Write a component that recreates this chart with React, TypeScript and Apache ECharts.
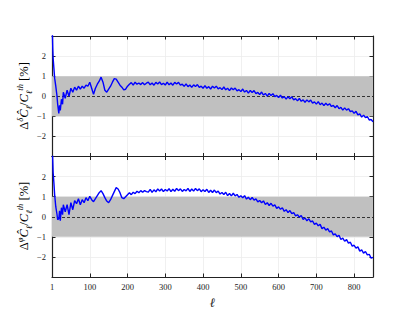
import React, { useEffect, useRef } from "react";
import * as echarts from "echarts";

// multipole values (shared by both panels)
const ell = [
  1, 2, 3, 5, 7, 10, 13, 15, 18, 20, 22, 25, 28, 30,
  35, 40, 45, 50, 55, 60, 65, 70, 75, 80,
  85, 90, 95, 100, 105, 110, 115, 120, 125, 130,
  135, 140, 145, 150, 155, 160, 165, 170, 175, 180,
  185, 190, 195, 200, 205, 210, 215, 220, 225, 230,
  235, 240, 245, 250,
  255, 260, 265, 270, 275, 280, 285, 290, 295, 300,
  305, 310, 315, 320, 325, 330, 335, 340, 345, 350,
  355, 360, 365, 370, 375, 380, 385, 390, 395, 400,
  405, 410, 415, 420, 425, 430, 435, 440, 445, 450,
  455, 460, 465, 470, 475, 480, 485, 490, 495, 500,
  505, 510, 515, 520, 525, 530, 535, 540, 545, 550,
  555, 560, 565, 570, 575, 580, 585, 590, 595, 600,
  605, 610, 615, 620, 625, 630, 635, 640, 645, 650,
  655, 660, 665, 670, 675, 680, 685, 690, 695, 700,
  705, 710, 715, 720, 725, 730, 735, 740, 745, 750,
  755, 760, 765, 770, 775, 780, 785, 790, 795, 800,
  805, 810, 815, 820, 825, 830, 835, 840, 845, 850,
];

// top panel: Δ^δ Ĉ_ℓ / C_ℓ^th [%]
const deltaPct = [
  3.2, 2.4, 1.9, 1.4, 0.9, 0.5, 0.05, -0.4, -0.85, -0.45, -0.7, -0.15, -0.4, 0.2,
  -0.1, 0.3, 0.0, 0.4, 0.2, 0.45, 0.3, 0.5, 0.35, 0.5,
  0.4, 0.55, 0.5, 0.7, 0.4, 0.1, 0.4, 0.6, 0.75, 0.95,
  0.7, 0.3, 0.2, 0.35, 0.5, 0.7, 0.88, 0.85, 0.7, 0.55,
  0.45, 0.32, 0.35, 0.5, 0.6, 0.68, 0.55, 0.7, 0.6, 0.66,
  0.58, 0.68, 0.57, 0.65,
  0.70, 0.57, 0.66, 0.55, 0.69, 0.61, 0.71, 0.58, 0.65, 0.56,
  0.70, 0.57, 0.66, 0.55, 0.69, 0.61, 0.69, 0.55, 0.60, 0.49,
  0.62, 0.48, 0.56, 0.44, 0.57, 0.48, 0.58, 0.44, 0.50, 0.40,
  0.53, 0.40, 0.48, 0.36, 0.50, 0.41, 0.50, 0.37, 0.43, 0.33,
  0.46, 0.32, 0.40, 0.28, 0.41, 0.32, 0.41, 0.27, 0.33, 0.23,
  0.36, 0.21, 0.29, 0.16, 0.29, 0.19, 0.28, 0.13, 0.19, 0.08,
  0.21, 0.06, 0.14, 0.01, 0.14, 0.04, 0.13, -0.02, 0.04, -0.07,
  0.05, -0.09, -0.02, -0.14, -0.02, -0.12, -0.03, -0.18, -0.12, -0.23,
  -0.11, -0.25, -0.18, -0.30, -0.18, -0.28, -0.19, -0.34, -0.28, -0.39,
  -0.27, -0.42, -0.34, -0.47, -0.35, -0.45, -0.37, -0.51, -0.46, -0.57,
  -0.46, -0.62, -0.55, -0.69, -0.58, -0.69, -0.62, -0.77, -0.73, -0.85,
  -0.75, -0.93, -0.88, -1.04, -0.94, -1.06, -1.01, -1.18, -1.16, -1.27,
];

// bottom panel: Δ^φ Ĉ_ℓ / C_ℓ^th [%]
const phiPct = [
  3.3, 2.8, 2.2, 1.7, 1.1, 0.5, 0.15, -0.15, -0.1, 0.3, -0.2, 0.45, 0.1, 0.6,
  0.25, 0.6, 0.1, 0.7, 0.35, 0.8, 0.65, 0.9, 0.6, 0.85,
  0.7, 0.95, 0.8, 1.02, 0.85, 0.75, 0.9, 1.05, 1.2, 1.3,
  1.15, 0.95, 0.78, 0.7, 0.85, 1.05, 1.25, 1.45, 1.38, 1.2,
  0.95, 0.9, 1.0, 1.1, 1.2, 1.1, 1.22, 1.15, 1.27, 1.2,
  1.3, 1.22, 1.3, 1.25,
  1.23, 1.36, 1.21, 1.34, 1.24, 1.39, 1.28, 1.38, 1.25, 1.36,
  1.28, 1.40, 1.25, 1.37, 1.27, 1.41, 1.30, 1.39, 1.26, 1.36,
  1.29, 1.41, 1.26, 1.38, 1.28, 1.41, 1.30, 1.39, 1.25, 1.35,
  1.26, 1.37, 1.21, 1.32, 1.21, 1.33, 1.20, 1.28, 1.13, 1.21,
  1.11, 1.22, 1.05, 1.16, 1.04, 1.17, 1.04, 1.11, 0.97, 1.05,
  0.95, 1.05, 0.88, 0.97, 0.85, 0.96, 0.83, 0.89, 0.74, 0.81,
  0.70, 0.79, 0.61, 0.70, 0.56, 0.67, 0.53, 0.59, 0.42, 0.49,
  0.37, 0.45, 0.27, 0.35, 0.21, 0.31, 0.16, 0.21, 0.04, 0.10,
  -0.02, 0.06, -0.14, -0.06, -0.20, -0.10, -0.26, -0.21, -0.38, -0.32,
  -0.45, -0.38, -0.59, -0.52, -0.67, -0.59, -0.75, -0.71, -0.90, -0.85,
  -0.99, -0.92, -1.13, -1.06, -1.22, -1.14, -1.31, -1.27, -1.46, -1.42,
  -1.56, -1.50, -1.71, -1.65, -1.81, -1.73, -1.90, -1.87, -2.06, -2.02,
];

const yTicks = [-2, -1, 0, 1, 2];
const xTickLabels: Record<number, string> = { 0: "1", 100: "100", 200: "200", 300: "300", 400: "400", 500: "500", 600: "600", 700: "700", 800: "800" };
const bandLow = -1;
const bandHigh = 1;

const SERIF = "'Liberation Serif', 'DejaVu Serif', serif";
const AXIS_COLOR = "#222";

export default function App() {
  const ref = useRef<HTMLDivElement>(null);
  useEffect(() => {
    if (!ref.current) return;
    const chart = echarts.init(ref.current, null, { renderer: "svg" });

    const grids = [
      { left: 52, top: 36, width: 321, height: 120.5 },
      { left: 52, top: 156.5, width: 321, height: 120.5 },
    ];

    const xAxis: any[] = [];
    const yAxis: any[] = [];
    grids.forEach((_, gi) => {
      ["bottom", "top"].forEach((pos) => {
        const showLabel = gi === 1 && pos === "bottom";
        xAxis.push({
          type: "value",
          gridIndex: gi,
          position: pos,
          min: 0,
          max: 850,
          interval: 100,
          axisLine: { show: true, onZero: false, lineStyle: { color: AXIS_COLOR, width: 1.2 } },
          axisTick: { show: true, inside: true, length: 3.5, lineStyle: { color: AXIS_COLOR, width: 1 } },
          axisLabel: {
            show: showLabel,
            showMaxLabel: false,
            margin: 5,
            fontFamily: SERIF,
            fontSize: 8.5,
            color: "#222",
            formatter: (v: number) => (xTickLabels[v] !== undefined ? xTickLabels[v] : ""),
          },
          splitLine: pos === "bottom" ? { show: true, lineStyle: { color: "#ececec", width: 0.8 } } : { show: false },
          name: showLabel ? "ℓ" : "",
          nameLocation: "middle",
          nameGap: 19,
          nameTextStyle: { fontFamily: SERIF, fontStyle: "italic", fontSize: 13, color: "#222" },
        });
      });
      ["left", "right"].forEach((pos) => {
        yAxis.push({
          type: "value",
          gridIndex: gi,
          position: pos,
          min: -3,
          max: 3,
          interval: 1,
          axisLine: { show: true, onZero: false, lineStyle: { color: AXIS_COLOR, width: 1.2 } },
          axisTick: { show: true, inside: true, length: 3.5, lineStyle: { color: AXIS_COLOR, width: 1 } },
          axisLabel: {
            show: pos === "left",
            margin: 6,
            fontFamily: SERIF,
            fontSize: 8.5,
            color: "#222",
            formatter: (v: number) => (yTicks.indexOf(v) >= 0 ? String(v).replace("-", "\u2212") : ""),
          },
          splitLine: pos === "left" ? { show: true, lineStyle: { color: "#ececec", width: 0.8 } } : { show: false },
        });
      });
    });

    const mkSeries = (vals: number[], gi: number) => ({
      type: "line",
      xAxisIndex: gi * 2,
      yAxisIndex: gi * 2,
      data: ell.map((l, i) => [l, vals[i]]),
      showSymbol: false,
      symbol: "none",
      clip: true,
      z: 5,
      lineStyle: { color: "#0000ff", width: 1.4 },
      markArea: {
        silent: true,
        itemStyle: { color: "#c0c0c0", opacity: 1 },
        data: [[{ yAxis: bandLow }, { yAxis: bandHigh }]],
      },
      markLine: {
        silent: true,
        symbol: "none",
        label: { show: false },
        lineStyle: { color: "#333", type: [3, 2], width: 1 },
        data: [{ yAxis: 0 }],
      },
    });

    const richBase = { fontFamily: SERIF, fontSize: 12.5, color: "#222", lineHeight: 18 };
    const rich = {
      b: { ...richBase },
      i: { ...richBase, fontStyle: "italic" },
      sup: { fontFamily: SERIF, fontSize: 8.5, fontStyle: "italic", color: "#222", verticalAlign: "top", lineHeight: 18 },
      sub: { fontFamily: SERIF, fontSize: 8.5, fontStyle: "italic", color: "#222", verticalAlign: "bottom", lineHeight: 18 },
    };
    const title = (sym: string) =>
      `{b|Δ}{sup|${sym}}{i|Ĉ}{sub|ℓ}{b|/}{i|C}{sub|ℓ}{sup|th}{b| [%]}`;

    chart.setOption({
      animation: false,
      grid: grids,
      xAxis,
      yAxis,
      series: [mkSeries(deltaPct, 0), mkSeries(phiPct, 1)],
      graphic: [
        {
          type: "text",
          x: 24,
          y: 96,
          rotation: Math.PI / 2,
          style: { text: title("δ"), rich, align: "center", verticalAlign: "middle" },
        },
        {
          type: "text",
          x: 24,
          y: 216,
          rotation: Math.PI / 2,
          style: { text: title("φ"), rich, align: "center", verticalAlign: "middle" },
        },
      ],
    });
    return () => chart.dispose();
  }, []);
  return (
    <div
      ref={ref}
      style={{ position: "fixed", left: 0, top: 0, width: 415, height: 311, background: "#fff" }}
    />
  );
}
